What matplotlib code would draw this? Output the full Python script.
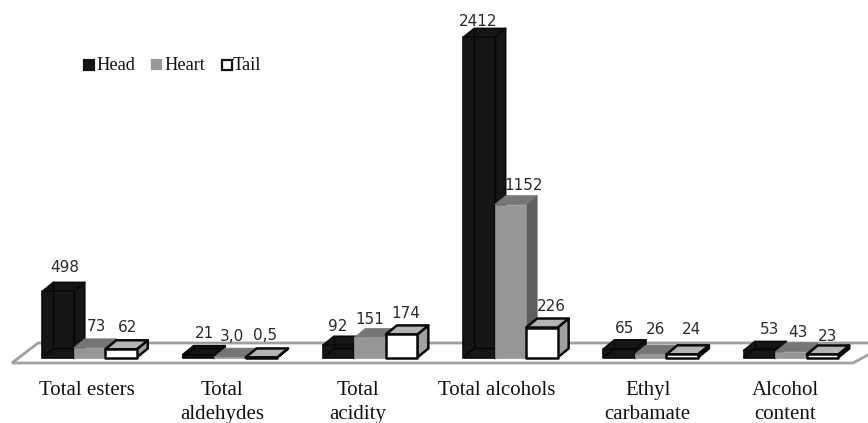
import numpy as np
import matplotlib
matplotlib.use('Agg')
import matplotlib.pyplot as plt
from matplotlib.patches import Polygon

categories = ['Total esters', 'Total\naldehydes', 'Total\nacidity',
              'Total alcohols', 'Ethyl\ncarbamate', 'Alcohol\ncontent']
head = [498, 21, 92, 2412, 65, 53]
heart = [73, 3.0, 151, 1152, 26, 43]
tail = [62, 0.5, 174, 226, 24, 23]
head_labels = ['498', '21', '92', '2412', '65', '53']
heart_labels = ['73', '3,0', '151', '1152', '26', '43']
tail_labels = ['62', '0,5', '174', '226', '24', '23']

# nudges for the value labels and category names, in pixels
head_dx = [-3, -4, -10.5, -11, -5, 0]
heart_dx = [-3, -8, -10, 3, -5, -3]
tail_dx = [-3, -6, -5.5, 0, -1, -5]
head_gap = [15, 12.7, 9.3, 7.4, 11, 11.5]
heart_gap = [12.8, 12, 8.5, 10.6, 16, 9.8]
tail_gap = [13, 13, 12, 12.5, 16, 9.4]
cat_dx = [-3, -8, -12, -14, -3, -6]

W, H = 868, 423
GROUP_PX = 140.3
Y_PX = 0.1327   # px per unit
X0_PX = 89.5
BASE_PX = 357.5
BAR_W = 31.5 / GROUP_PX
DX = 11 / GROUP_PX
DY = 9 / Y_PX

fig = plt.figure(figsize=(W / 100, H / 100), dpi=100)
ax = fig.add_axes([0, 0, 1, 1])
ax.set_xlim(-X0_PX / GROUP_PX, (W - X0_PX) / GROUP_PX)
ax.set_ylim(-(H - BASE_PX) / Y_PX, BASE_PX / Y_PX)
ax.axis('off')

px = 1 / GROUP_PX
py = 1 / Y_PX
fx = lambda p: (p - X0_PX) * px
fy = lambda p: (BASE_PX - p) * py

# floor of the 3d box
floor = Polygon([(fx(12), fy(363)), (fx(853), fy(363)), (fx(890), fy(343)), (fx(38), fy(343))],
                closed=True, fc='white', ec='#a0a0a0', lw=2.0, zorder=1)
ax.add_patch(floor)


def bar3d(x, v, front, top, side, edge, lw, z):
    x1 = x + BAR_W
    f = [(x, 0), (x1, 0), (x1, v), (x, v)]
    t = [(x, v), (x1, v), (x1 + DX, v + DY), (x + DX, v + DY)]
    s = [(x1, 0), (x1 + DX, DY), (x1 + DX, v + DY), (x1, v)]
    for pts, c in ((s, side), (t, top), (f, front)):
        ax.add_patch(Polygon(pts, closed=True, fc=c, ec=edge or c, lw=lw,
                             joinstyle='round', zorder=z))


for i in range(len(categories)):
    x = i - 1.5 * BAR_W
    # left to right, each bar covers the side of the previous one
    bar3d(x, head[i], '#161616', '#161616', '#161616', '#0a0a0a', 1.2, 3)
    # hidden edges seen through the dark bar
    ax.plot([x + DX, x + DX], [DY, head[i] + DY], color='#060606', lw=1, zorder=3.5)
    ax.plot([x + BAR_W, x + BAR_W], [0, head[i]], color='#060606', lw=1, zorder=3.5)
    ax.plot([x, x + DX, x + BAR_W + DX], [0, DY, DY], color='#060606', lw=1, zorder=3.5)
    bar3d(x + BAR_W, heart[i], '#969696', '#767676', '#5e5e5e', None, 0.5, 4)
    bar3d(x + 2 * BAR_W, tail[i], 'white', '#b4b4b4', '#a0a0a0', '#0a0a0a', 1.8, 5)

    groups = ((head, head_labels, head_dx, head_gap, 0.5),
              (heart, heart_labels, heart_dx, heart_gap, 1.5),
              (tail, tail_labels, tail_dx, tail_gap, 2.5))
    for vals, labs, ldx, gap, off in groups:
        ax.text(x + off * BAR_W + DX * 0.9 + ldx[i] * px, vals[i] + DY + gap[i] * py, labs[i],
                ha='center', va='center', fontsize=11, color='#2a2a2a',
                family='DejaVu Sans', zorder=8)

    ax.text(i + cat_dx[i] * px, fy(381), categories[i], ha='center', va='top', fontsize=15,
            family='Liberation Serif', color='#111111', linespacing=1.38)

# legend squares with serif labels
leg_names = ['Head', 'Heart', 'Tail']
leg_x = [84, 152, 222]
leg_size = [9.5, 9, 9.5]
leg_text_x = [96, 164, 233]
styles = [dict(fc='#141414', ec='#141414'), dict(fc='#999999', ec='#999999'), dict(fc='white', ec='#111111')]
for lx, s, name, tx, st in zip(leg_x, leg_size, leg_names, leg_text_x, styles):
    ax.add_patch(Polygon([(fx(lx), fy(60.5)), (fx(lx + s), fy(60.5)), (fx(lx + s), fy(60.5 + s)), (fx(lx), fy(60.5 + s))],
                         closed=True, lw=1.6, **st))
    ax.text(fx(tx), fy(65), name, ha='left', va='center', fontsize=13.2,
            family='Liberation Serif', color='#111111')

fig.savefig('out.png', dpi=100)
